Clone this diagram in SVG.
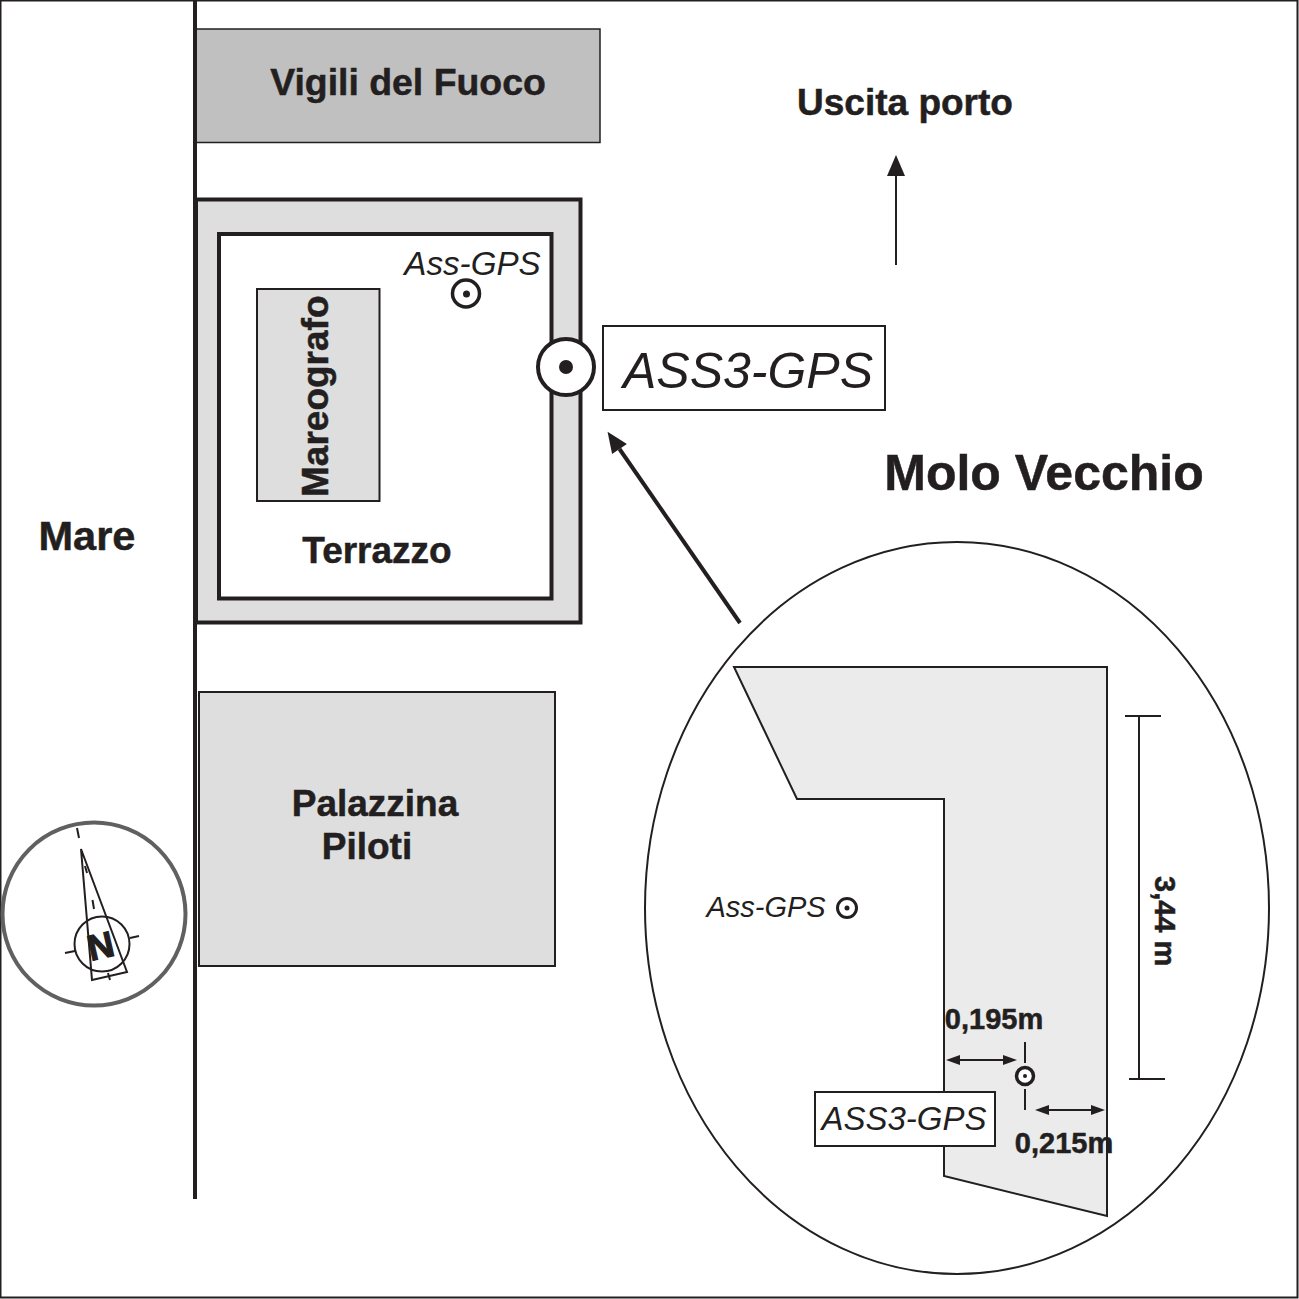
<svg xmlns="http://www.w3.org/2000/svg" width="1299" height="1299" viewBox="0 0 1299 1299">
<style>
text{font-family:"Liberation Sans",Arial,sans-serif;fill:#231f20}
.b{font-weight:bold;stroke:#231f20;stroke-width:.5}
.i{font-style:italic}
.l{fill:none;stroke:#231f20;stroke-width:2}
</style>
<defs>
<marker id="ah" markerUnits="userSpaceOnUse" markerWidth="24" markerHeight="24" refX="0" refY="8" orient="auto" viewBox="0 0 14 16"><path d="M14 8L0 2V14Z" fill="#231f20"/></marker>
<marker id="sm" markerUnits="userSpaceOnUse" markerWidth="14" markerHeight="12" refX="0" refY="6" orient="auto-start-reverse" viewBox="0 0 14 12"><path d="M14 6L0 1V11Z" fill="#231f20"/></marker>
</defs>
<rect x="0" y="0" width="1299" height="1299" fill="#fff"/>
<rect x="0.500" y="0.500" width="1297" height="1297" fill="none" stroke="#231f20" stroke-width="2"/>
<g id="vigili"><rect x="195" y="29" width="405" height="113.500" fill="#c0c0c0" stroke="#231f20" stroke-width="1.500"/><text class="b" x="408" y="95" font-size="37.400" text-anchor="middle">Vigili del Fuoco</text></g>
<g id="terrazzo-outer"><rect x="196" y="199.500" width="384.500" height="423" fill="#dedede" stroke="#231f20" stroke-width="4"/></g>
<g id="terrazzo"><rect x="219" y="234" width="332.500" height="364.500" fill="#fff" stroke="#231f20" stroke-width="4"/><text class="b" x="377" y="563" font-size="37" text-anchor="middle">Terrazzo</text></g>
<g id="mareografo"><rect x="257" y="289" width="122.500" height="212" fill="#dedede" stroke="#231f20" stroke-width="2"/><text class="b" transform="translate(328 497) rotate(-90)" font-size="37">Mareografo</text></g>
<g id="palazzina"><rect x="199" y="692" width="356" height="274" fill="#dedede" stroke="#231f20" stroke-width="2"/><text class="b" x="375" y="816" font-size="37" text-anchor="middle">Palazzina</text><text class="b" x="367" y="859" font-size="37" text-anchor="middle">Piloti</text></g>
<g id="costa"><line x1="195" y1="0" x2="195" y2="1199" stroke="#231f20" stroke-width="4"/></g>
<text class="b" x="87" y="550" font-size="41.500" text-anchor="middle">Mare</text>
<text class="b" x="905" y="115" font-size="37" text-anchor="middle">Uscita porto</text>
<text class="b" x="1044" y="490" font-size="50" text-anchor="middle">Molo Vecchio</text>
<g id="ass-gps"><text class="i" x="472.500" y="275" font-size="33.200" text-anchor="middle">Ass-GPS</text><circle cx="466" cy="293.500" r="13.500" fill="#fff" stroke="#231f20" stroke-width="3.500"/><circle cx="466.500" cy="294" r="3.500" fill="#231f20"/></g>
<g id="ass3-marker"><circle cx="566" cy="367" r="28" fill="#fff" stroke="#231f20" stroke-width="4"/><circle cx="566" cy="367" r="7" fill="#231f20"/></g>
<g id="ass3-label"><rect x="603" y="326" width="282" height="84" fill="#fff" stroke="#231f20" stroke-width="2"/><text class="i" x="748" y="388" font-size="50" text-anchor="middle">ASS3-GPS</text></g>
<g id="connectors">
<line x1="896" y1="265" x2="896" y2="176" stroke="#231f20" stroke-width="2" marker-end="url(#ah)"/>
<line x1="740" y1="623" x2="619.500" y2="449" stroke="#231f20" stroke-width="4" marker-end="url(#ah)"/>
</g>
<g id="dettaglio"><ellipse cx="957" cy="908" rx="312" ry="366" fill="#fff" stroke="#231f20" stroke-width="2"/>
<path d="M734 667H1107V1216L944 1176V799H797Z" fill="#ebebeb" stroke="#231f20" stroke-width="2"/>
<text class="i" x="766" y="917" font-size="29" text-anchor="middle">Ass-GPS</text>
<circle cx="847" cy="908" r="9.500" fill="#fff" stroke="#231f20" stroke-width="3"/><circle cx="847" cy="908" r="2.500" fill="#231f20"/>
<path class="l" d="M1139 716V1079M1125 716H1161M1129 1079H1165"/>
<text class="b" transform="translate(1155 876) rotate(90)" font-size="29">3,44 m</text>
<text class="b" x="994" y="1029" font-size="29" text-anchor="middle">0,195m</text>
<text class="b" x="1064" y="1153" font-size="29" text-anchor="middle">0,215m</text>
<path class="l" d="M1025 1042V1063M1025 1089V1110"/>
<circle cx="1025" cy="1076" r="8.500" fill="#fff" stroke="#231f20" stroke-width="3.500"/><circle cx="1025" cy="1076" r="2" fill="#231f20"/>
<line x1="960" y1="1060" x2="1003" y2="1060" stroke="#231f20" stroke-width="2" marker-start="url(#sm)" marker-end="url(#sm)"/>
<line x1="1049" y1="1110" x2="1091" y2="1110" stroke="#231f20" stroke-width="2" marker-start="url(#sm)" marker-end="url(#sm)"/>
<rect x="815" y="1092" width="180" height="54" fill="#fff" stroke="#231f20" stroke-width="2"/>
<text class="i" x="904" y="1130" font-size="33" text-anchor="middle">ASS3-GPS</text>
</g>
<g id="nord"><circle cx="94" cy="914" r="91.500" fill="#fff" stroke="#606060" stroke-width="4"/>
<circle cx="102" cy="944" r="27.500" fill="none" stroke="#231f20" stroke-width="2"/>
<path class="l" d="M81 849L92 980L127 972Z"/>
<path class="l" d="M77 828L79 838M85 866L87 873M92.500 900L94 909M65 953L75 951M130 938L139 936M108 973L110 980"/>
<text transform="translate(103.500 958) rotate(-13)" font-size="36" font-weight="bold" stroke="#231f20" stroke-width="1.200" text-anchor="middle">N</text>
</g>
</svg>
